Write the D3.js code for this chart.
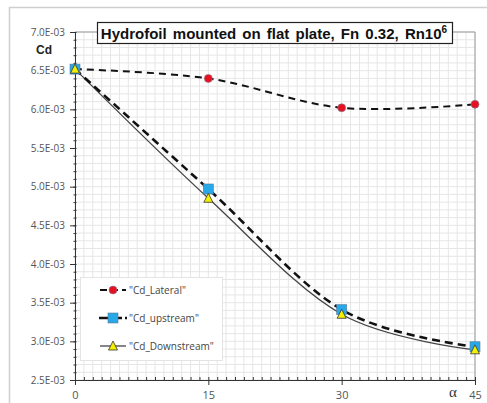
<!DOCTYPE html>
<html><head><meta charset="utf-8">
<script src="https://cdn.jsdelivr.net/npm/d3@7"></script>
<style>body{margin:0;background:#fff}svg{display:block}</style>
</head><body>
<script>
const angles = [0, 15, 30, 45];
const cdLateral = [6.52e-3, 6.40e-3, 6.02e-3, 6.065e-3];
const cdUpstream = [6.52e-3, 4.97e-3, 3.41e-3, 2.93e-3];
const cdDownstream = [6.52e-3, 4.85e-3, 3.35e-3, 2.89e-3];
const xTicks = [0, 15, 30, 45];
const yTicks = [2.5e-3, 3.0e-3, 3.5e-3, 4.0e-3, 4.5e-3, 5.0e-3, 5.5e-3, 6.0e-3, 6.5e-3, 7.0e-3];
const seriesNames = ['"Cd_Lateral"', '"Cd_upstream"', '"Cd_Downstream"'];

const W = 487, H = 403;
const FONT = "Open Sans, Liberation Sans, Arial, sans-serif";
const svg = d3.select("body").append("svg").attr("width", W).attr("height", H);
const x = d3.scaleLinear().domain([0, 45]).range([75, 475]);
const y = d3.scaleLinear().domain([2.5e-3, 7.0e-3]).range([380, 32]);

// outer frame
svg.append("rect").attr("x", 9.5).attr("y", 7.5).attr("width", 520).attr("height", 420)
  .attr("fill", "#fff").attr("stroke", "#cfcfcf").attr("stroke-width", 1.5);

// minor grid
const g = svg.append("g");
d3.range(0, 46, 1).forEach(v => g.append("line").attr("x1", x(v)).attr("x2", x(v)).attr("y1", 32).attr("y2", 380)
  .attr("stroke", "#e6e6e6").attr("stroke-width", 1));
d3.range(25, 71, 1).forEach(v => g.append("line").attr("x1", 75).attr("x2", 475).attr("y1", y(v * 1e-4)).attr("y2", y(v * 1e-4))
  .attr("stroke", "#e6e6e6").attr("stroke-width", 1));
// plot border top/right
svg.append("path").attr("d", `M75,${y(7e-3)}H${x(45)}V380`).attr("fill", "none").attr("stroke", "#999").attr("stroke-width", 1);

// axes
const yAxis = d3.axisLeft(y).tickValues(yTicks).tickSize(5).tickFormat(d => (d * 1e3).toFixed(1) + "E-03");
const ya = svg.append("g").attr("transform", "translate(75,0)").call(yAxis);
ya.select(".domain").attr("stroke", "#333");
ya.selectAll("text").attr("fill", "#555").style("font-family", FONT).style("font-size", "10px").attr("x", -10);
ya.selectAll("line").attr("stroke", "#333");
const yMinor = d3.axisLeft(y).tickValues(d3.range(25, 71, 1).map(v => v * 1e-4)).tickSize(3).tickFormat("");
const ym = svg.append("g").attr("transform", "translate(76.5,0)").call(yMinor);
ym.select(".domain").remove(); ym.selectAll("line").attr("stroke", "#333").attr("x1", -3).attr("x2", 0);

const xAxis = d3.axisBottom(x).tickValues(xTicks).tickSize(5).tickPadding(6);
const xa = svg.append("g").attr("transform", "translate(0,380)").call(xAxis);
xa.select(".domain").attr("stroke", "#333");
xa.selectAll("line").attr("stroke", "#333");
xa.selectAll("text").attr("fill", "#555").style("font-family", FONT).style("font-size", "11px");
const xMinor = d3.axisBottom(x).tickValues(d3.range(0, 46, 1)).tickSize(3).tickFormat("");
const xm = svg.append("g").attr("transform", "translate(0,380)").call(xMinor);
xm.select(".domain").remove(); xm.selectAll("line").attr("y1", -3).attr("y2", 0).attr("stroke", "#333");

// labels
svg.append("text").attr("x", 44).attr("y", 54).attr("text-anchor", "middle").style("font-family", "Liberation Sans, Arial, sans-serif")
  .style("font-size", "12px").style("font-weight", "bold").attr("fill", "#222").text("Cd");
svg.append("text").attr("x", 453).attr("y", 397).attr("text-anchor", "middle").style("font-family", "Liberation Serif, serif")
  .style("font-size", "15px").attr("fill", "#333").text("α");

// series
const line = d3.line().x((d, i) => x(angles[i])).y(d => y(d)).curve(d3.curveCardinal.tension(0));
svg.append("path").datum(cdDownstream).attr("d", line).attr("fill", "none").attr("stroke", "#444").attr("stroke-width", 1.3);
svg.append("path").datum(cdUpstream).attr("d", line).attr("fill", "none").attr("stroke", "#111").attr("stroke-width", 2.6).attr("stroke-dasharray", "8,5");
svg.append("path").datum(cdLateral).attr("d", line).attr("fill", "none").attr("stroke", "#111").attr("stroke-width", 2).attr("stroke-dasharray", "7,5");

function circ(sel, cx, cy) { sel.append("circle").attr("cx", cx).attr("cy", cy).attr("r", 4).attr("fill", "#e8101e").attr("stroke", "#8080a0").attr("stroke-width", 0.6); }
function sq(sel, cx, cy) { sel.append("rect").attr("x", cx - 5).attr("y", cy - 5).attr("width", 10).attr("height", 10).attr("fill", "#27a8e8").attr("stroke", "#5a7a9a").attr("stroke-width", 0.6); }
function tri(sel, cx, cy) { sel.append("path").attr("d", `M${cx},${cy - 5}L${cx + 4.5},${cy + 4}L${cx - 4.5},${cy + 4}Z`).attr("fill", "#f5f000").attr("stroke", "#333").attr("stroke-width", 0.8); }

cdLateral.forEach((d, i) => circ(svg, x(angles[i]), y(d)));
cdUpstream.forEach((d, i) => sq(svg, x(angles[i]), y(d)));
cdDownstream.forEach((d, i) => tri(svg, x(angles[i]), y(d)));

// title
svg.append("rect").attr("x", 97.5).attr("y", 22.5).attr("width", 355).attr("height", 21).attr("fill", "#fff").attr("stroke", "#222").attr("stroke-width", 1.2);
const t = svg.append("text").attr("x", 274).attr("y", 39).attr("text-anchor", "middle").style("font-family", "Liberation Sans, Arial, sans-serif")
  .style("font-size", "15px").style("font-weight", "bold").style("word-spacing", "2px").attr("fill", "#111");
t.append("tspan").text("Hydrofoil mounted on flat plate, Fn 0.32, Rn10");
t.append("tspan").attr("dy", -6).style("font-size", "10px").text("6");

// legend
const lg = svg.append("g");
lg.append("rect").attr("x", 80.5).attr("y", 277.5).attr("width", 142).attr("height", 83).attr("fill", "#fff").attr("stroke", "#e4e4e4");
const ly = [290, 318, 346];
lg.append("line").attr("x1", 100).attr("x2", 126).attr("y1", ly[0]).attr("y2", ly[0]).attr("stroke", "#111").attr("stroke-width", 2).attr("stroke-dasharray", "7,4");
circ(lg, 113, ly[0]);
lg.append("line").attr("x1", 99).attr("x2", 127).attr("y1", ly[1]).attr("y2", ly[1]).attr("stroke", "#111").attr("stroke-width", 2.6).attr("stroke-dasharray", "10,3");
sq(lg, 113, ly[1]);
lg.append("line").attr("x1", 100).attr("x2", 126).attr("y1", ly[2]).attr("y2", ly[2]).attr("stroke", "#444").attr("stroke-width", 1.3);
tri(lg, 113, ly[2]);
seriesNames.forEach((n, i) => lg.append("text").attr("x", 129).attr("y", ly[i] + 4).style("font-family", FONT)
  .style("font-size", "10px").attr("fill", "#444").text(n));
</script>
</body></html>
